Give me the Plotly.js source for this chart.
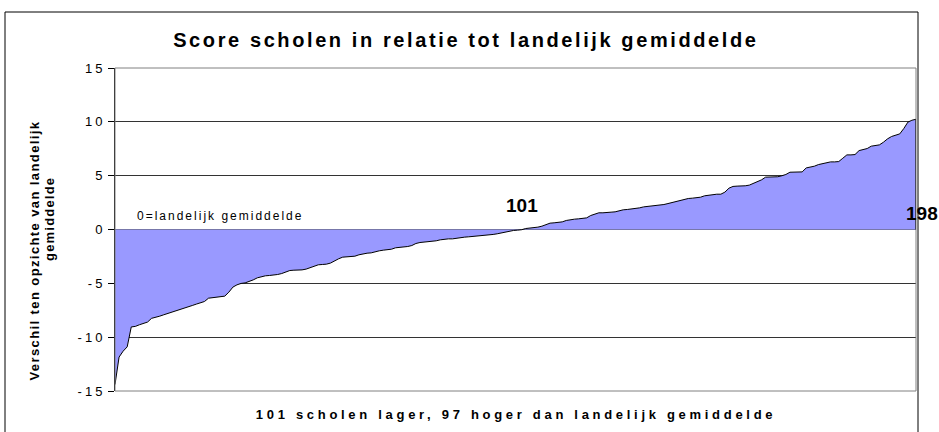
<!DOCTYPE html>
<html>
<head>
<meta charset="utf-8">
<script src="https://cdn.plot.ly/plotly-3.0.1.min.js"></script>
<style>
html,body{margin:0;padding:0;background:#fff;}
#chart{width:939px;height:432px;}
</style>
</head>
<body>
<div id="chart"></div>
<script>
// School index (1..198), sorted by score difference
const schoolIndex = Array.from({length: 198}, (_, i) => i + 1);

// Difference from national average
const scoreDiff = [
  -14.4, -11.85, -11.3, -10.9, -9.05, -9.0, -8.85, -8.7, -8.6, -8.25,
  -8.17, -8.05, -7.92, -7.8, -7.7, -7.58, -7.43, -7.37, -7.24, -7.06,
  -6.93, -6.81, -6.69, -6.38, -6.32, -6.32, -6.25, -6.19, -5.82, -5.35,
  -5.14, -5.01, -4.96, -4.85, -4.68, -4.49, -4.37, -4.3, -4.27, -4.24,
  -4.18, -4.09, -3.96, -3.81, -3.78, -3.78, -3.75, -3.68, -3.53, -3.4,
  -3.28, -3.25, -3.22, -3.12, -2.91, -2.72, -2.57, -2.54, -2.51, -2.48,
  -2.35, -2.26, -2.2, -2.17, -2.11, -1.98, -1.92, -1.89, -1.83, -1.7,
  -1.67, -1.64, -1.58, -1.49, -1.3, -1.21, -1.18, -1.15, -1.11, -1.05,
  -0.96, -0.9, -0.87, -0.87, -0.8, -0.74, -0.71, -0.68, -0.65, -0.62,
  -0.59, -0.56, -0.53, -0.46, -0.4, -0.31, -0.22, -0.15, -0.09, -0.06,
  -0.02, 0.09, 0.12, 0.15, 0.22, 0.31, 0.46, 0.59, 0.62, 0.65,
  0.71, 0.84, 0.93, 0.96, 0.99, 1.02, 1.08, 1.3, 1.46, 1.55,
  1.55, 1.55, 1.61, 1.64, 1.76, 1.83, 1.86, 1.89, 1.92, 2.01,
  2.1, 2.14, 2.17, 2.2, 2.25, 2.32, 2.41, 2.5, 2.6, 2.66,
  2.81, 2.88, 2.91, 2.94, 3.0, 3.13, 3.19, 3.25, 3.28, 3.28,
  3.47, 3.84, 4.0, 4.03, 4.03, 4.06, 4.12, 4.27, 4.43, 4.61,
  4.86, 4.86, 4.86, 4.9, 4.99, 5.11, 5.32, 5.35, 5.32, 5.35,
  5.72, 5.79, 5.88, 6.03, 6.13, 6.22, 6.28, 6.28, 6.31, 6.62,
  6.93, 6.93, 6.96, 7.33, 7.43, 7.52, 7.74, 7.83, 7.86, 8.11,
  8.42, 8.64, 8.73, 8.88, 9.38, 9.97, 10.15, 10.24
];

const yTickVals = [-15, -10, -5, 0, 5, 10, 15];
const yTickText = ['-15', '-10', '-5', '0', '5', '10', '15'];

const chartTitle = 'Score scholen in relatie tot landelijk gemiddelde';
const xTitle = '101 scholen lager, 97 hoger dan landelijk gemiddelde';
const yTitleLine1 = 'Verschil ten opzichte van landelijk';
const yTitleLine2 = 'gemiddelde';
const zeroNote = '0=landelijk gemiddelde';
const crossLabel = '101';
const lastLabel = '198';

const FONT = 'Liberation Sans, Arial, sans-serif';

const lastIdx = schoolIndex.length - 1;

const trace = {
  type: 'scatter',
  mode: 'lines',
  x: schoolIndex,
  y: scoreDiff,
  fill: 'tozeroy',
  fillcolor: '#9999FF',
  line: {color: '#000000', width: 1, shape: 'linear'},
  hoverinfo: 'skip'
};

const layout = {
  width: 939,
  height: 432,
  margin: {l: 115, r: 23, t: 68, b: 41},
  paper_bgcolor: '#ffffff',
  plot_bgcolor: '#ffffff',
  showlegend: false,
  font: {family: FONT, color: '#000000'},
  title: {
    text: '<b>' + chartTitle + '</b>',
    font: {family: FONT, size: 20, color: '#000000'},
    x: 0.438, xref: 'paper', xanchor: 'center',
    y: 1 - 40 / 432, yref: 'container', yanchor: 'middle'
  },
  xaxis: {
    range: [1, 198],
    showgrid: false,
    zeroline: false,
    showticklabels: false,
    ticks: '',
    showline: false,
    fixedrange: true
  },
  yaxis: {
    range: [-15, 15],
    tickmode: 'array',
    tickvals: yTickVals,
    ticktext: yTickText,
    ticks: 'outside',
    ticklen: 6,
    tickwidth: 1,
    tickcolor: '#000000',
    tickfont: {family: FONT, size: 13, color: '#000000'},
    showgrid: true,
    gridcolor: '#333333',
    gridwidth: 1,
    zeroline: true,
    zerolinecolor: '#555555',
    zerolinewidth: 1,
    showline: true,
    linecolor: '#000000',
    linewidth: 1,
    fixedrange: true
  },
  shapes: [
    {type: 'rect', xref: 'paper', yref: 'paper', x0: 0, x1: 1, y0: 0, y1: 1,
     line: {color: '#808080', width: 1}, fillcolor: 'rgba(0,0,0,0)', layer: 'above'},
    {type: 'line', xref: 'x', yref: 'y',
     x0: schoolIndex[lastIdx], x1: schoolIndex[lastIdx], y0: 0, y1: scoreDiff[lastIdx],
     line: {color: '#000000', width: 1}, layer: 'above'},
    {type: 'rect', xref: 'paper', yref: 'paper',
     x0: (5 - 115) / 801, x1: (918 - 115) / 801,
     y0: (391 - 440) / 323, y1: (391 - 12) / 323,
     line: {color: '#000000', width: 1}, fillcolor: 'rgba(0,0,0,0)', layer: 'above'}
  ],
  annotations: [
    {text: zeroNote, xref: 'paper', yref: 'y', x: (220 - 115) / 801, y: 1.3,
     xanchor: 'center', yanchor: 'middle', showarrow: false,
     font: {family: FONT, size: 12, color: '#000000'}},
    {text: '<b>' + crossLabel + '</b>', xref: 'x', yref: 'y', x: 101, y: 2.2,
     xanchor: 'center', yanchor: 'middle', showarrow: false,
     font: {family: FONT, size: 19, color: '#000000'}},
    {text: '<b>' + lastLabel + '</b>', xref: 'x', yref: 'y', x: 198, y: 1.5, xshift: 6,
     xanchor: 'center', yanchor: 'middle', showarrow: false,
     font: {family: FONT, size: 19, color: '#000000'}},
    {text: '<b>' + xTitle + '</b>', xref: 'paper', yref: 'paper',
     x: (516 - 115) / 801, y: (391 - 414) / 323,
     xanchor: 'center', yanchor: 'middle', showarrow: false,
     font: {family: FONT, size: 13, color: '#000000'}},
    {text: '<b>' + yTitleLine1 + '</b>', xref: 'paper', yref: 'paper',
     x: (34 - 115) / 801, y: (391 - 250) / 323, textangle: -90,
     xanchor: 'center', yanchor: 'middle', showarrow: false,
     font: {family: FONT, size: 13, color: '#000000'}},
    {text: '<b>' + yTitleLine2 + '</b>', xref: 'paper', yref: 'paper',
     x: (49 - 115) / 801, y: (391 - 219) / 323, textangle: -90,
     xanchor: 'center', yanchor: 'middle', showarrow: false,
     font: {family: FONT, size: 13, color: '#000000'}}
  ]
};

Plotly.newPlot('chart', [trace], layout, {staticPlot: true, displayModeBar: false}).then(function (gd) {
  const spacing = {};
  spacing[chartTitle] = '2.6px';
  spacing[xTitle] = '3.7px';
  spacing[zeroNote] = '2px';
  spacing[yTitleLine1] = '1.4px';
  spacing[yTitleLine2] = '1.2px';
  gd.querySelectorAll('text').forEach(function (t) {
    const s = spacing[t.textContent];
    if (s) t.style.letterSpacing = s;
  });
  gd.querySelectorAll('.ytick text').forEach(function (t) {
    t.style.letterSpacing = '3px';
  });
});
</script>
</body>
</html>
